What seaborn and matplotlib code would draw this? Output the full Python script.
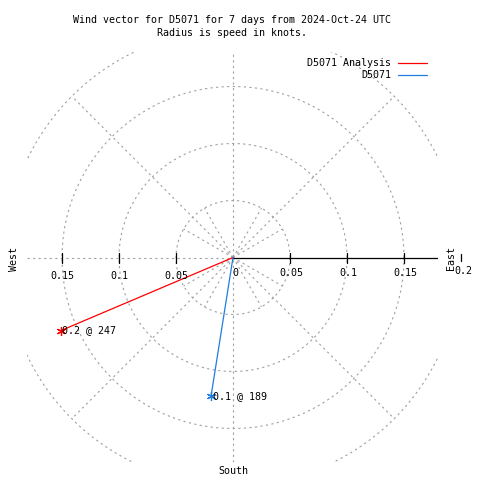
import numpy as np
import pandas as pd
import matplotlib
matplotlib.use("Agg")
import matplotlib.pyplot as plt
import seaborn as sns

# ---- data ----
series_names = ["D5071 Analysis", "D5071"]
speeds = [0.164, 0.123]          # knots
directions = [247, 189]          # degrees (compass)
series_colors = ["#ff0000", "#1e7ee0"]
ring_radii = [0.05, 0.1, 0.15, 0.2]
tick_values = [0.05, 0.1, 0.15]
title_lines = ["Wind vector for D5071 for 7 days from 2024-Oct-24 UTC",
               "Radius is speed in knots."]

sns.set_theme(style="white")
plt.rcParams['font.family'] = ['DejaVu Sans Mono']
plt.rcParams['text.color'] = 'black'
FS = 7.2

W = H = 480
fig = plt.figure(figsize=(4.8, 4.8), dpi=100)
cx, cy, scale = 233.0, 257.5, 1140.0
left_px, right_px, top_px, bottom_px = 27, 438, 52, 462
ax = fig.add_axes([left_px / W, 1 - bottom_px / H, (right_px - left_px) / W, (bottom_px - top_px) / H])
ax.set_xlim((left_px - cx) / scale, (right_px - cx) / scale)
ax.set_ylim((cy - bottom_px) / scale, (cy - top_px) / scale)
ax.set_aspect("equal", adjustable="box")
ax.axis("off")

grid_kw = dict(color="#a0a0a0", lw=0.8, ls=(0, (2, 3)), zorder=1)
# rings
t = np.linspace(0, 2 * np.pi, 721)
for r in ring_radii:
    ax.plot(r * np.cos(t), r * np.sin(t), **grid_kw)
# 45 degree spokes to outer ring
for a in [45, 135, 225, 315]:
    th = np.deg2rad(a)
    ax.plot([0, ring_radii[-1] * np.cos(th)], [0, ring_radii[-1] * np.sin(th)], **grid_kw)
# 30 degree spokes inside inner ring
for a in [30, 60, 120, 150, 210, 240, 300, 330]:
    th = np.deg2rad(a)
    ax.plot([0, ring_radii[0] * np.cos(th)], [0, ring_radii[0] * np.sin(th)], **grid_kw)
# axes lines
x0, x1 = ax.get_xlim()
y0, y1 = ax.get_ylim()
ax.plot([x0, 0], [0, 0], **grid_kw)
ax.plot([0, 0], [y0, y1], **grid_kw)
ax.plot([0, x1], [0, 0], color="black", lw=0.9, zorder=2)

# ticks
tick_h = 5 / scale
for v in tick_values:
    for s in (-1, 1):
        ax.plot([s * v, s * v], [-tick_h, tick_h], color="black", lw=0.9, zorder=2)
ax.plot([0.2, 0.2], [-3 / scale, 4 / scale], color="black", lw=0.9, zorder=2, clip_on=False)

def px(x, y):
    return x / W, 1 - y / H

# tick labels
for v in tick_values:
    lab = f"{v:g}"
    fig.text(*px(cx - v * scale, 276), lab, ha="center", va="center", fontsize=FS)
    fig.text(*px(cx + v * scale + 1, 273.5), lab, ha="center", va="center", fontsize=FS)
fig.text(*px(235, 273), "0", ha="center", va="center", fontsize=FS)
fig.text(*px(463, 271), "0.2", ha="center", va="center", fontsize=FS)

# direction labels
fig.text(*px(451, 258), "East", ha="center", va="center", rotation=90, fontsize=FS)
fig.text(*px(14, 259), "West", ha="center", va="center", rotation=90, fontsize=FS)
fig.text(*px(233, 471), "South", ha="center", va="center", fontsize=FS)

# title
fig.text(*px(232, 20), title_lines[0], ha="center", va="center", fontsize=FS)
fig.text(*px(232, 33), title_lines[1], ha="center", va="center", fontsize=FS)

# vectors
rows = []
for name, s, d in zip(series_names, speeds, directions):
    th = np.deg2rad(d)
    rows.append(dict(series=name, order=0, x=0.0, y=0.0))
    rows.append(dict(series=name, order=1, x=s * np.sin(th), y=s * np.cos(th)))
df = pd.DataFrame(rows)
palette = dict(zip(series_names, series_colors))
sns.lineplot(data=df, x="x", y="y", hue="series", units="series", estimator=None,
             sort=False, palette=palette, lw=0.9, legend=False, ax=ax, zorder=3)
ends = df[df.order == 1]
for _, row in ends.iterrows():
    ax.plot(row.x, row.y, marker=(6, 2, 0), ms=6.5, mew=0.9, color=palette[row.series],
            zorder=4, clip_on=False)
for name, s, d in zip(series_names, speeds, directions):
    th = np.deg2rad(d)
    ax.text(s * np.sin(th) + 1.5 / scale, s * np.cos(th), f"{s:.1f} @ {d}",
            ha="left", va="center", fontsize=FS, zorder=5)

# legend
for i, (name, col) in enumerate(zip(series_names, series_colors)):
    yy = 63 + i * 12.5
    fig.text(*px(391, yy), name, ha="right", va="center", fontsize=FS)
    fig.add_artist(plt.Line2D([398 / W, 427 / W], [1 - (yy - 0.5) / H] * 2, color=col, lw=0.9))

fig.savefig("out.png", dpi=100)
